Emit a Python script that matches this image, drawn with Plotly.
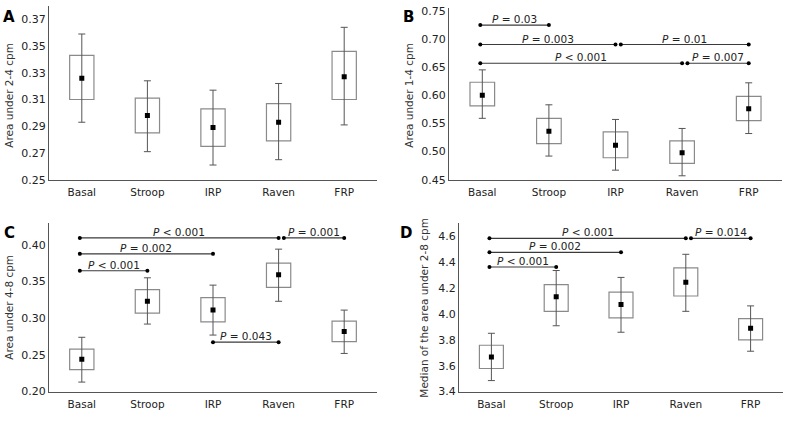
import plotly.graph_objects as go

categories = ["Basal", "Stroop", "IRP", "Raven", "FRP"]

# Panel A: Area under 2-4 cpm
a_mean = [0.326, 0.298, 0.289, 0.293, 0.327]
a_box_lo = [0.310, 0.285, 0.275, 0.279, 0.310]
a_box_hi = [0.343, 0.311, 0.303, 0.307, 0.346]
a_wh_lo = [0.293, 0.271, 0.261, 0.265, 0.291]
a_wh_hi = [0.359, 0.324, 0.317, 0.322, 0.364]

# Panel B: Area under 1-4 cpm
b_mean = [0.600, 0.536, 0.511, 0.498, 0.576]
b_box_lo = [0.581, 0.514, 0.489, 0.479, 0.555]
b_box_hi = [0.623, 0.559, 0.535, 0.519, 0.598]
b_wh_lo = [0.559, 0.492, 0.467, 0.457, 0.532]
b_wh_hi = [0.645, 0.583, 0.557, 0.541, 0.622]

# Panel C: Area under 4-8 cpm
c_mean = [0.244, 0.323, 0.311, 0.359, 0.282]
c_box_lo = [0.230, 0.307, 0.295, 0.342, 0.268]
c_box_hi = [0.258, 0.339, 0.328, 0.375, 0.296]
c_wh_lo = [0.213, 0.292, 0.277, 0.323, 0.252]
c_wh_hi = [0.274, 0.355, 0.345, 0.394, 0.311]

# Panel D: Median of the area under 2-8 cpm
d_mean = [3.666, 4.131, 4.070, 4.241, 3.887]
d_box_lo = [3.578, 4.018, 3.967, 4.136, 3.799]
d_box_hi = [3.757, 4.224, 4.166, 4.352, 3.962]
d_wh_lo = [3.485, 3.907, 3.857, 4.018, 3.711]
d_wh_hi = [3.849, 4.332, 4.279, 4.457, 4.060]

# Significance brackets: (from index, to index, y level, label)
b_brackets = [(0, 1, 0.7245, "= 0.03"), (0, 2, 0.690, "= 0.003"), (2, 4, 0.690, "= 0.01"),
              (0, 3, 0.6567, "< 0.001"), (3, 4, 0.6567, "= 0.007")]
c_brackets = [(0, 3, 0.4093, "< 0.001"), (3, 4, 0.4093, "= 0.001"), (0, 2, 0.3876, "= 0.002"),
              (0, 1, 0.3646, "< 0.001"), (2, 3, 0.2673, "= 0.043")]
d_brackets = [(0, 3, 4.580, "< 0.001"), (3, 4, 4.580, "= 0.014"), (0, 2, 4.472, "= 0.002"),
              (0, 1, 4.359, "< 0.001")]

ytitles = ["Area under 2-4 cpm", "Area under 1-4 cpm", "Area under 4-8 cpm",
           "Median of the area under 2-8 cpm"]
letters = ["A", "B", "C", "D"]
yranges = [[0.25, 0.38], [0.45, 0.755], [0.20, 0.43], [3.4, 4.70]]
ytickvals = [[0.25, 0.27, 0.29, 0.31, 0.33, 0.35, 0.37],
             [0.45, 0.50, 0.55, 0.60, 0.65, 0.70, 0.75],
             [0.20, 0.25, 0.30, 0.35, 0.40],
             [3.4, 3.6, 3.8, 4.0, 4.2, 4.4, 4.6]]
ytickfmt = [".2f", ".2f", ".2f", ".1f"]

W, H = 787, 425
# pixel boxes of plot areas: (left, right, top, bottom)
areas = [(49, 377, 3, 181), (449, 782, 5, 181), (49, 377, 225, 398), (459, 783, 225, 398)]
letter_pos = [(9, 14), (408, 14), (9, 236), (406, 236)]
ytitle_pos = [(9, 95), (409, 95), (9, 312), (424, 312)]

FONT = "DejaVu Sans"
BOXC = "#8a8a8a"
DARK = "#3a3a3a"

panels = [
    (a_mean, a_box_lo, a_box_hi, a_wh_lo, a_wh_hi, []),
    (b_mean, b_box_lo, b_box_hi, b_wh_lo, b_wh_hi, b_brackets),
    (c_mean, c_box_lo, c_box_hi, c_wh_lo, c_wh_hi, c_brackets),
    (d_mean, d_box_lo, d_box_hi, d_wh_lo, d_wh_hi, d_brackets),
]

fig = go.Figure()
xs = list(range(len(categories)))
annotations = []
layout_axes = {}

for k, (mean, blo, bhi, wlo, whi, brackets) in enumerate(panels):
    n = "" if k == 0 else str(k + 1)
    xa, ya = "x" + n, "y" + n
    # boxes
    fig.add_trace(go.Bar(
        x=xs, y=[h - l for h, l in zip(bhi, blo)], base=blo, width=0.37,
        marker=dict(color="rgba(255,255,255,0)", line=dict(color=BOXC, width=1.2)),
        xaxis=xa, yaxis=ya, showlegend=False, hoverinfo="skip"))
    # whiskers + mean
    fig.add_trace(go.Scatter(
        x=xs, y=mean, mode="markers",
        marker=dict(symbol="square", size=5, color="black"),
        error_y=dict(type="data", symmetric=False,
                     array=[h - m for h, m in zip(whi, mean)],
                     arrayminus=[m - l for m, l in zip(mean, wlo)],
                     color="#555555", thickness=1, width=3.5),
        xaxis=xa, yaxis=ya, showlegend=False))
    # brackets
    ends_at = {}
    for (i0, i1, yv, lab) in brackets:
        x0 = i0 + (0.08 if (i0, round(yv, 4)) in ends_at else 0.0) - (0.03 if i0 == 0 else 0.0)
        ends_at[(i1, round(yv, 4))] = True
        x1 = i1
        fig.add_trace(go.Scatter(
            x=[x0, x1], y=[yv, yv], mode="lines+markers",
            line=dict(color=DARK, width=1.2),
            marker=dict(symbol="circle", size=4, color="black"),
            xaxis=xa, yaxis=ya, showlegend=False, hoverinfo="skip"))
        annotations.append(dict(
            x=(x0 + x1) / 2, y=yv, xref=xa, yref=ya, xanchor="center",
            yanchor="bottom", yshift=-2,
            text="<i>P</i> " + lab, showarrow=False,
            font=dict(family=FONT, size=10.5, color="#222222")))
    l, r, t, b = areas[k]
    axkey = "xaxis" + n
    aykey = "yaxis" + n
    layout_axes[axkey] = dict(
        domain=[l / W, r / W], range=[-0.5, 4.5], anchor=ya,
        tickmode="array", tickvals=xs, ticktext=categories,
        showline=True, linecolor="#555555", linewidth=1, ticks="",
        showgrid=False, zeroline=False, fixedrange=True, ticklabelstandoff=3,
        tickfont=dict(family=FONT, size=10.5, color="#222222"))
    layout_axes[aykey] = dict(
        domain=[1 - b / H, 1 - t / H], range=yranges[k], anchor=xa,
        tickmode="array", tickvals=ytickvals[k], tickformat=ytickfmt[k],
        showline=True, linecolor="#555555", linewidth=1, ticks="",
        showgrid=False, zeroline=False,
        tickfont=dict(family=FONT, size=11, color="#222222"))
    lx, ly = letter_pos[k]
    annotations.append(dict(x=lx / W, y=1 - ly / H, xref="paper", yref="paper",
                            xanchor="center", yanchor="middle",
                            text="<b>" + letters[k] + "</b>", showarrow=False,
                            font=dict(family=FONT, size=15, color="black")))
    tx, ty = ytitle_pos[k]
    annotations.append(dict(x=tx / W, y=1 - ty / H, xref="paper", yref="paper",
                            xanchor="center", yanchor="middle",
                            text=ytitles[k], textangle=-90, showarrow=False,
                            font=dict(family=FONT, size=10.5, color="#333333")))

fig.update_layout(
    width=W, height=H, margin=dict(l=0, r=0, t=0, b=0),
    plot_bgcolor="white", paper_bgcolor="white",
    barmode="overlay", annotations=annotations,
    font=dict(family=FONT), **layout_axes)

fig.write_html("out.html", config={"displayModeBar": False},
               post_script="document.body.style.margin='0';document.body.style.padding='0';")
